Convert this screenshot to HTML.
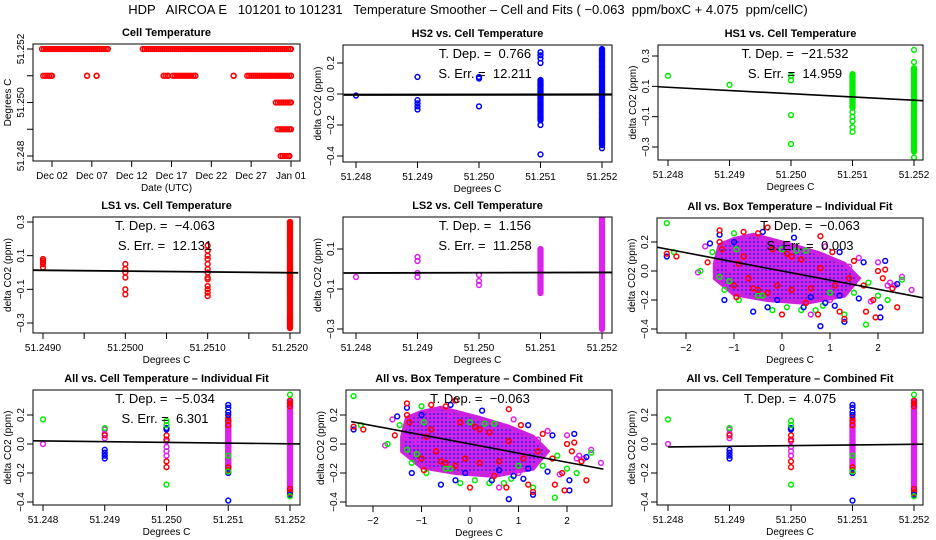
<!DOCTYPE html>
<html><head><meta charset="utf-8"><style>
html,body{margin:0;padding:0;background:#fff}
svg{display:block;font-family:"Liberation Sans",sans-serif}
text{white-space:pre}
</style></head><body>
<svg id="c" width="936" height="540" viewBox="0 0 936 540">
<defs><pattern id="core" width="4" height="4" patternUnits="userSpaceOnUse"><rect width="4" height="4" fill="#d420e8"/><circle cx="2" cy="2" r="1" fill="#2030e0"/></pattern></defs>
<text x="468" y="14" text-anchor="middle" font-size="13" xml:space="preserve">HDP   AIRCOA E   101201 to 101231   Temperature Smoother – Cell and Fits ( −0.063  ppm/boxC + 4.075  ppm/cellC)</text>
</svg>
<script>
// ---------- DATA ----------
const p1Segments=[[0.75,9.0,51.252],[13.4,32,51.252],[0.9,2,51.251],[6.4,6.4,51.251],[7.6,7.6,51.251],[16,16.6,51.251],[17.2,20,51.251],[24.8,24.8,51.251],[26.5,32,51.251],[30.1,32,51.250],[30.3,32,51.249],[30.7,31.8,51.248]];
const p1DateTicks=[2,7,12,17,22,27,32];
const p1DateLabels=["Dec 02","Dec 07","Dec 12","Dec 17","Dec 22","Dec 27","Jan 01"];
const tempTicks=[51.248,51.249,51.250,51.251,51.252];
const tempLabels=["51.248","51.249","51.250","51.251","51.252"];
const hs2Points=[[51.248,-0.01],[51.249,0.11],[51.249,-0.04],[51.249,-0.06],[51.249,-0.08],[51.249,-0.1],[51.250,0.11],[51.250,0.10],[51.250,-0.08],[51.251,0.27],[51.251,0.25],[51.251,0.23],[51.251,0.20],[51.251,-0.2],[51.251,-0.39],[51.252,-0.32],[51.252,-0.35]];
const hs2Dense=[[51.251,0.09,-0.17],[51.252,0.29,-0.33]];
const hs1Points=[[51.248,0.17],[51.249,0.11],[51.250,0.17],[51.250,0.14],[51.250,-0.09],[51.250,-0.28],[51.251,-0.07],[51.251,-0.1],[51.251,-0.13],[51.251,-0.17],[51.251,-0.2],[51.252,0.34],[51.252,0.26],[51.252,-0.37]];
const hs1Dense=[[51.251,0.18,-0.04],[51.252,0.22,-0.33]];
const ls1Points=[[51.249,0.08],[51.249,0.07],[51.249,0.06],[51.249,0.05],[51.249,0.03],[51.250,0.05],[51.250,0.02],[51.250,0.0],[51.250,-0.03],[51.250,-0.1],[51.250,-0.13],[51.251,0.16],[51.251,0.13],[51.251,0.1],[51.251,0.08],[51.251,0.05],[51.251,0.02],[51.251,0.0],[51.251,-0.03],[51.251,-0.04],[51.251,-0.08],[51.251,-0.1],[51.251,-0.12],[51.251,-0.14]];
const ls1Dense=[[51.252,0.30,-0.33]];
const ls2Points=[[51.248,-0.04],[51.249,0.06],[51.249,0.04],[51.249,-0.02],[51.249,-0.04],[51.250,-0.03],[51.250,-0.06],[51.250,-0.08]];
const ls2Dense=[[51.251,0.10,-0.12],[51.252,0.27,-0.30]];
const allRed=[[51.249,0.06],[51.250,0.06],[51.250,0.03],[51.250,-0.12],[51.250,-0.16],[51.251,0.18],[51.251,0.16],[51.251,0.13],[51.251,-0.16],[51.251,-0.18],[51.252,0.30],[51.252,0.28],[51.252,0.26],[51.252,-0.31],[51.252,-0.33],[51.252,-0.34]];
const allBlue=[[51.249,-0.04],[51.249,-0.06],[51.249,-0.08],[51.249,-0.1],[51.250,0.11],[51.250,0.10],[51.251,0.27],[51.251,0.25],[51.251,0.22],[51.251,0.20],[51.251,-0.2],[51.251,-0.39],[51.252,-0.35]];
const allGreen=[[51.248,0.17],[51.249,0.11],[51.250,0.16],[51.250,0.13],[51.250,-0.28],[51.251,-0.08],[51.251,-0.19],[51.252,0.34],[51.252,-0.36]];
const allMagenta=[[51.248,0.0],[51.249,0.10],[51.249,0.07],[51.249,0.04],[51.250,0.02],[51.250,-0.02],[51.250,-0.05],[51.250,-0.08]];
const allMagentaDense=[[51.251,0.17,-0.17],[51.252,0.30,-0.33]];
const boxRed=[[-2.4,0.12],[-2.2,0.1],[-1.55,0.06],[-1.3,0.28],[-1.0,-0.1],[-0.95,-0.18],[-0.8,0.27],[-0.5,0.26],[-0.3,0.3],[-0.3,-0.15],[0.0,-0.3],[0.2,0.1],[0.5,-0.22],[0.8,0.24],[0.75,-0.3],[1.05,0.13],[1.2,-0.28],[1.3,-0.33],[1.4,-0.05],[1.7,-0.1],[1.75,-0.28],[1.95,-0.32],[2.0,0.0],[2.1,-0.05],[2.15,0.01],[2.3,-0.12],[2.4,-0.25],[1.5,0.07],[1.9,-0.2],[-0.7,-0.05],[-1.3,0.2],[-1.25,0.15],[-0.8,0.1],[-0.6,-0.12],[-0.5,-0.13],[-0.2,0.15],[0.1,0.12],[0.2,-0.13],[0.6,-0.12],[0.8,0.02],[1.1,-0.1],[-0.9,0.05],[0.4,0.08],[-0.1,-0.1]];
const boxBlue=[[-2.4,0.1],[-1.5,0.19],[-1.2,-0.2],[-1.0,0.2],[-0.6,-0.28],[-0.3,-0.25],[-0.1,-0.2],[0.25,0.23],[0.45,-0.25],[0.8,-0.38],[0.9,-0.22],[1.1,-0.24],[1.3,-0.35],[1.6,-0.19],[1.2,0.13],[2.05,-0.25],[2.05,-0.32],[2.15,0.07],[2.4,-0.09],[1.7,0.06],[0.6,-0.18],[-1.3,0.25],[-0.4,0.27],[1.2,-0.17]];
const boxGreen=[[-2.4,0.33],[-2.25,0.13],[-1.7,0.0],[-1.45,0.13],[-1.3,-0.04],[-1.2,-0.13],[-0.95,0.15],[-0.9,-0.2],[-0.5,-0.17],[-0.2,-0.27],[0.1,-0.25],[0.4,-0.27],[0.7,-0.27],[0.85,-0.24],[1.3,-0.3],[1.5,-0.15],[1.75,-0.37],[1.8,-0.08],[2.0,-0.17],[2.5,-0.06],[2.2,-0.2],[-1.1,-0.07],[0.5,0.14],[-0.4,-0.17],[0.0,0.15],[0.3,0.14],[-1.0,0.26],[1.0,-0.15]];
const boxMagenta=[[-1.75,-0.01],[-1.6,0.17],[-1.35,0.05],[-1.1,0.02],[0.6,-0.3],[0.9,0.17],[1.4,0.03],[1.6,0.09],[1.85,-0.21],[2.0,0.06],[2.2,-0.1],[2.35,-0.1],[2.5,-0.04],[2.7,-0.13],[2.25,-0.08],[1.0,-0.2],[-0.4,0.2]];
const boxCore=[[-1.4,0.05],[-1.3,0.18],[-1.0,0.22],[-0.6,0.25],[0.2,0.18],[0.8,0.12],[1.3,0.05],[1.6,-0.05],[1.3,-0.17],[0.5,-0.22],[-0.3,-0.2],[-1.0,-0.16],[-1.4,-0.05]];
const boxSlope=-0.063, boxIntercept=0.0;
const boxTicks=[-2,-1,0,1,2];
const yTicks4=[-0.4,-0.2,0.0,0.2];
const yLabels4=["−0.4","−0.2","0.0","0.2"];
const yTicks3=[-0.3,-0.1,0.1,0.3];
const yLabels3=["−0.3","−0.1","0.1","0.3"];

// ---------- DRAW ----------
const svg=document.getElementById('c');
const NS='http://www.w3.org/2000/svg';
let clipN=0;
function mk(tag,attrs,parent){const e=document.createElementNS(NS,tag);for(const k in attrs)e.setAttribute(k,attrs[k]);(parent||svg).appendChild(e);return e;}
function lin(d0,p0,d1,p1){return v=>p0+(v-d0)*(p1-p0)/(d1-d0);}
function txt(x,y,s,size,attrs,parent){const t=mk('text',Object.assign({x:x,y:y,'font-size':size},attrs||{}),parent);t.textContent=s;return t;}

function panel(o){
  const g=mk('g',{});
  
  
  const X=lin(o.xd[0],o.xp[0],o.xd[1],o.xp[1]);
  const Y=lin(o.yd[0],o.yp[0],o.yd[1],o.yp[1]);
  const cid='clip'+(clipN++);
  const cp=mk('clipPath',{id:cid},g);
  mk('rect',{x:o.box[0],y:o.box[1],width:o.box[2]-o.box[0],height:o.box[3]-o.box[1]},cp);
  const t=txt((o.box[0]+o.box[2])/2,o.box[1]-8,o.title,11,{'text-anchor':'middle','font-weight':'bold'},g);
  
  
  const xa=mk('g',{},g);
  
  
  o.xticks.forEach((v,i)=>{const px=X(v);mk('line',{x1:px,x2:px,y1:o.box[3],y2:o.box[3]+6,stroke:'#000'},xa);
    if(o.xlabels[i])txt(px,o.box[3]+18,o.xlabels[i],10,{'text-anchor':'middle'},xa);});
  mk('line',{x1:X(o.xticks[0]),x2:X(o.xticks[o.xticks.length-1]),y1:o.box[3],y2:o.box[3],stroke:'#000'},xa);
  const xt=txt((o.box[0]+o.box[2])/2,o.box[3]+30,o.xtitle,10,{'text-anchor':'middle'},g);
  
  
  const ya=mk('g',{},g);
  
  
  o.yticks.forEach((v,i)=>{const py=Y(v);mk('line',{x1:o.box[0]-6,x2:o.box[0],y1:py,y2:py,stroke:'#000'},ya);
    if(o.ylabels[i])txt(o.box[0]-9,py,o.ylabels[i],10,{'text-anchor':'middle',transform:`rotate(-90 ${o.box[0]-9} ${py})`},ya);});
  const yt=txt(o.box[0]-22,(o.box[1]+o.box[3])/2,o.ytitle,10,{'text-anchor':'middle',transform:`rotate(-90 ${o.box[0]-22} ${(o.box[1]+o.box[3])/2})`},g);
  
  
  const plot=mk('g',{'clip-path':`url(#${cid})`},g);
  
  
  const b=mk('rect',{x:o.box[0],y:o.box[1],width:o.box[2]-o.box[0],height:o.box[3]-o.box[1],fill:'none',stroke:'#000','stroke-width':1},g);
  
  
  return {g,X,Y,plot,o};
}
function pt(P,x,y,col,name){const c=mk('circle',{cx:P.X(x),cy:P.Y(y),r:2.4,fill:'none',stroke:col,'stroke-width':1.5},P.plot);
  
  }
function dense(P,arr,col,name){arr.forEach(d=>{for(let y=d[2];y<=d[1]+1e-9;y+=0.006)pt(P,d[0],Math.min(y,d[1]),col,name);pt(P,d[0],d[1],col,name);});}
function fitLine(P,x0,y0,x1,y1,w){const l=mk('line',{x1:P.X(x0),y1:P.Y(y0),x2:P.X(x1),y2:P.Y(y1),stroke:'#000','stroke-width':w||1.6},P.plot);
  
  }
function annot(P,cx,y,lines){lines.forEach((s,i)=>{const t=txt(cx,y+i*20,s,13,{'text-anchor':'middle','xml:space':'preserve'},P.g);
  
  });}

const RED='#ff0000',BLUE='#0000ff',GREEN='#00ee00',MAG='#dd22ee';
(function(){
  const P=panel({name:'cell-temperature-panel',title:'Cell Temperature',box:[33,44,300,161],xd:[2,32],xp:[52,291],yd:[51.248,51.252],yp:[156,49],
    xticks:p1DateTicks,xlabels:p1DateLabels,yticks:tempTicks,ylabels:["51.248","","51.250","","51.252"],xtitle:'Date (UTC)',ytitle:'Degrees C'});
  p1Segments.forEach(s=>{for(let d=s[0];d<=s[1]+1e-9;d+=0.25)pt(P,d,s[2],RED,'temperature-point');pt(P,s[1],s[2],RED,'temperature-point');});
})();
(function(){
  const P=panel({name:'hs2-panel',title:'HS2 vs. Cell Temperature',box:[343,45,612,162],xd:[51.248,51.252],xp:[356,602],yd:[0,0.2],yp:[94,63],
    xticks:tempTicks,xlabels:tempLabels,yticks:yTicks4,ylabels:yLabels4,xtitle:'Degrees C',ytitle:'delta CO2 (ppm)'});
  hs2Points.forEach(p=>pt(P,p[0],p[1],BLUE,'hs2-point'));dense(P,hs2Dense,BLUE,'hs2-point');
  fitLine(P,51.2478,-0.005,51.2525,-0.003,2.2);annot(P,485,58,['T. Dep. =  0.766','S. Err. =  12.211']);
})();
(function(){
  const P=panel({name:'hs1-panel',title:'HS1 vs. Cell Temperature',box:[658,45,923,160],xd:[51.248,51.252],xp:[668,914],yd:[0,0.3],yp:[101.5,56],
    xticks:tempTicks,xlabels:tempLabels,yticks:yTicks3,ylabels:yLabels3,xtitle:'Degrees C',ytitle:'delta CO2 (ppm)'});
  hs1Points.forEach(p=>pt(P,p[0],p[1],GREEN,'hs1-point'));dense(P,hs1Dense,GREEN,'hs1-point');
  fitLine(P,51.2478,0.098,51.2524,0.0,1.6);annot(P,795,58,['T. Dep. =  −21.532','S. Err. =  14.959']);
})();
(function(){
  const P=panel({name:'ls1-panel',title:'LS1 vs. Cell Temperature',box:[33,217,300,333],xd:[51.249,51.252],xp:[43,290],yd:[0,0.3],yp:[272.5,222],
    xticks:[51.249,51.2495,51.250,51.2505,51.251,51.2515,51.252],xlabels:["51.2490","","51.2500","","51.2510","","51.2520"],yticks:yTicks3,ylabels:yLabels3,xtitle:'Degrees C',ytitle:'delta CO2 (ppm)'});
  ls1Points.forEach(p=>pt(P,p[0],p[1],RED,'ls1-point'));dense(P,ls1Dense,RED,'ls1-point');
  fitLine(P,51.2488,0.014,51.2521,-0.002,1.8);annot(P,165,230,['T. Dep. =  −4.063','S. Err. =  12.131']);
})();
(function(){
  const P=panel({name:'ls2-panel',title:'LS2 vs. Cell Temperature',box:[343,217,612,333],xd:[51.248,51.252],xp:[356,602],yd:[0,0.1],yp:[269,249],
    xticks:tempTicks,xlabels:tempLabels,yticks:[-0.3,-0.1,0.1],ylabels:["−0.3","−0.1","0.1"],xtitle:'Degrees C',ytitle:'delta CO2 (ppm)'});
  ls2Points.forEach(p=>pt(P,p[0],p[1],MAG,'ls2-point'));dense(P,ls2Dense,MAG,'ls2-point');
  fitLine(P,51.2478,-0.02,51.2524,-0.017,1.8);annot(P,485,230,['T. Dep. =  1.156','S. Err. =  11.258']);
})();
function boxScatter(P,x0,x1){
  const poly=mk('polygon',{points:boxCore.map(p=>P.X(p[0])+','+P.Y(p[1])).join(' '),fill:'url(#core)',stroke:'#cc22dd','stroke-width':4},P.plot);
  
  
  boxMagenta.forEach(p=>pt(P,p[0],p[1],MAG,'ls2-point'));
  boxGreen.forEach(p=>pt(P,p[0],p[1],GREEN,'hs1-point'));
  boxBlue.forEach(p=>pt(P,p[0],p[1],BLUE,'hs2-point'));
  boxRed.forEach(p=>pt(P,p[0],p[1],RED,'ls1-point'));
  fitLine(P,x0,boxIntercept+boxSlope*x0,x1,boxIntercept+boxSlope*x1,1.6);
}
(function(){
  const P=panel({name:'box-temperature-individual-panel',title:'All vs. Box Temperature – Individual Fit',box:[657,218,923,333],xd:[0,2],xp:[782,878],yd:[0,0.2],yp:[271,242],
    xticks:boxTicks,xlabels:["−2","−1","0","1","2"],yticks:yTicks4,ylabels:yLabels4,xtitle:'Degrees C',ytitle:'delta CO2 (ppm)'});
  boxScatter(P,-2.7,3.0);annot(P,810,230,['T. Dep. =  −0.063','S. Err. =  0.003']);
})();
function colScatter(P){
  allMagentaDense.forEach(d=>{for(let y=d[2];y<=d[1];y+=0.006)pt(P,d[0],y,MAG,'ls2-point');});
  allMagenta.forEach(p=>pt(P,p[0],p[1],MAG,'ls2-point'));
  allRed.forEach(p=>pt(P,p[0],p[1],RED,'ls1-point'));
  allBlue.forEach(p=>pt(P,p[0],p[1],BLUE,'hs2-point'));
  allGreen.forEach(p=>pt(P,p[0],p[1],GREEN,'hs1-point'));
}
(function(){
  const P=panel({name:'cell-temperature-individual-panel',title:'All vs. Cell Temperature – Individual Fit',box:[33,390,300,505],xd:[51.248,51.252],xp:[43,290],yd:[0,0.2],yp:[444,415],
    xticks:tempTicks,xlabels:tempLabels,yticks:yTicks4,ylabels:yLabels4,xtitle:'Degrees C',ytitle:'delta CO2 (ppm)'});
  colScatter(P);fitLine(P,51.2478,0.022,51.2525,-0.001,1.6);annot(P,165,403,['T. Dep. =  −5.034','S. Err. =  6.301']);
})();
(function(){
  const P=panel({name:'box-temperature-combined-panel',title:'All vs. Box Temperature – Combined Fit',box:[346,390,612,506],xd:[0,2],xp:[470,567],yd:[0,0.2],yp:[444,415],
    xticks:boxTicks,xlabels:["−2","−1","0","1","2"],yticks:yTicks4,ylabels:yLabels4,xtitle:'Degrees C',ytitle:'delta CO2 (ppm)'});
  boxScatter(P,-2.45,2.75);
  annot(P,480,403,['T. Dep. =  −0.063']);
})();
(function(){
  const P=panel({name:'cell-temperature-combined-panel',title:'All vs. Cell Temperature – Combined Fit',box:[657,390,923,505],xd:[51.248,51.252],xp:[668,914],yd:[0,0.2],yp:[444,415],
    xticks:tempTicks,xlabels:tempLabels,yticks:yTicks4,ylabels:yLabels4,xtitle:'Degrees C',ytitle:'delta CO2 (ppm)'});
  colScatter(P);fitLine(P,51.248,-0.02,51.2525,0.0,1.6);annot(P,790,403,['T. Dep. =  4.075']);
})();
</script>
</body></html>
